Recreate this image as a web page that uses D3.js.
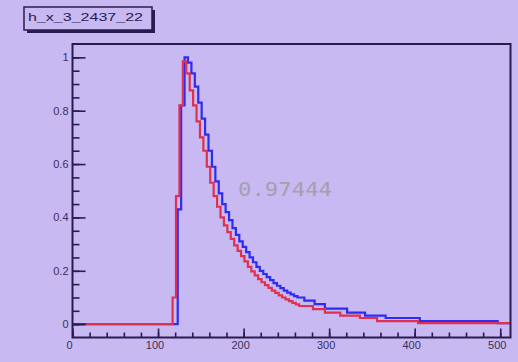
<!DOCTYPE html>
<html>
<head>
<meta charset="utf-8">
<script src="https://cdn.jsdelivr.net/npm/d3@7"></script>
<style>
  html, body { margin: 0; padding: 0; background: #c8b9f3; }
  svg { display: block; }
</style>
</head>
<body>
<svg id="chart" width="518" height="362"></svg>
<script>
// Histogram title and overlay value
const histTitle = "h_x_3_2437_22";
const overlayValue = "0.97444";

// Axis ranges and ticks
const xDomain = [0, 512];
const yDomain = [-0.05, 1.05];
const xMajorTicks = [0, 100, 200, 300, 400, 500];
const xMinorTicks = d3.range(0, 513, 20);
const yMajorTicks = [0, 0.2, 0.4, 0.6, 0.8, 1];
const yMinorTicks = d3.range(0, 1.0001, 0.05);
const yTickLabels = ["0", "0.2", "0.4", "0.6", "0.8", "1"];

// Red histogram: bin edges and contents
const redEdges = [16, 117, 121, 125, 129, 133, 137, 141, 145, 149, 153, 157, 161, 165, 169, 173, 177,
  181, 185, 189, 193, 197, 201, 205, 209, 213, 217, 221, 225, 229, 233, 237, 241, 245, 249, 253,
  257, 261, 265, 281, 295, 313, 336, 356, 404, 512];
const redValues = [0, 0.10, 0.48, 0.82, 0.985, 0.94, 0.876, 0.82, 0.76, 0.70, 0.65, 0.59, 0.53,
  0.48, 0.44, 0.40, 0.37, 0.345, 0.32, 0.295, 0.275, 0.255, 0.235, 0.215, 0.198, 0.183, 0.169,
  0.157, 0.146, 0.136, 0.126, 0.117, 0.108, 0.100, 0.093, 0.086, 0.080, 0.074, 0.068, 0.056,
  0.043, 0.032, 0.023, 0.011, 0.004];

// Blue histogram: bin edges and contents
const blueEdges = [0, 123, 127, 131, 135, 139, 143, 147, 151, 155, 159, 163, 167, 171, 175, 179,
  183, 187, 191, 195, 199, 203, 207, 211, 215, 219, 223, 227, 231, 235, 239, 243, 247, 251, 255,
  259, 263, 271, 283, 295, 321, 342, 366, 406, 497, 512];
const blueValues = [0, 0.43, 0.82, 1.0, 0.98, 0.94, 0.89, 0.83, 0.77, 0.71, 0.65, 0.59, 0.535,
  0.49, 0.45, 0.42, 0.39, 0.36, 0.335, 0.31, 0.29, 0.27, 0.25, 0.232, 0.215, 0.20, 0.188, 0.176,
  0.165, 0.154, 0.144, 0.135, 0.126, 0.118, 0.112, 0.105, 0.10, 0.088, 0.075, 0.058, 0.043,
  0.032, 0.023, 0.011, 0.004];

const frame = { left: 72.5, right: 510.5, top: 44, bottom: 337.5 };
const ink = "#2a1c4e";
const labelInk = "#3a3058";

const svg = d3.select("#chart");

const x = d3.scaleLinear().domain(xDomain).range([frame.left, frame.right]);
const y = d3.scaleLinear().domain(yDomain).range([frame.bottom, frame.top]);

svg.append("defs").append("clipPath").attr("id", "plotClip")
  .append("rect")
  .attr("x", frame.left).attr("y", frame.top)
  .attr("width", frame.right - frame.left).attr("height", frame.bottom - frame.top);

// Step outline of a histogram from its edges and contents
function stepPoints(edges, values) {
  const pts = values.map((v, i) => [edges[i], v]);
  pts.push([edges[edges.length - 1], values[values.length - 1]]);
  return pts;
}
const stepLine = d3.line()
  .x(d => x(d[0]))
  .y(d => y(d[1]))
  .curve(d3.curveStepAfter);

const plot = svg.append("g").attr("clip-path", "url(#plotClip)");

plot.append("path")
  .attr("d", stepLine(stepPoints(blueEdges, blueValues)))
  .attr("fill", "none")
  .attr("stroke", "#2f2cf2")
  .attr("stroke-width", 2.2);

plot.append("path")
  .attr("d", stepLine(stepPoints(redEdges, redValues)))
  .attr("fill", "none")
  .attr("stroke", "#e0304f")
  .attr("stroke-width", 2.2);

// Frame
svg.append("rect")
  .attr("x", frame.left).attr("y", frame.top)
  .attr("width", frame.right - frame.left).attr("height", frame.bottom - frame.top)
  .attr("fill", "none").attr("stroke", ink).attr("stroke-width", 2);

// Y axis: ticks point into the frame
const yAxisMajor = d3.axisRight(y).tickValues(yMajorTicks).tickSize(13)
  .tickFormat(() => "");
const yAxisMinor = d3.axisRight(y).tickValues(yMinorTicks).tickSize(7)
  .tickFormat(() => "");
[yAxisMinor, yAxisMajor].forEach(ax => {
  const g = svg.append("g").attr("transform", `translate(${frame.left},0)`).call(ax);
  g.select(".domain").remove();
  g.selectAll("line").attr("stroke", ink).attr("stroke-width", 1.6);
});
svg.append("g").selectAll("text").data(yMajorTicks).join("text")
  .attr("x", frame.left - 4)
  .attr("y", d => y(d))
  .attr("dy", "0.35em")
  .attr("text-anchor", "end")
  .attr("font-family", "Liberation Sans, Arial, sans-serif")
  .attr("font-size", 11)
  .attr("fill", labelInk)
  .text((d, i) => yTickLabels[i]);

// X axis: ticks point up into the frame
const xAxisMajor = d3.axisTop(x).tickValues(xMajorTicks).tickSize(9).tickFormat(() => "");
const xAxisMinor = d3.axisTop(x).tickValues(xMinorTicks).tickSize(5).tickFormat(() => "");
[xAxisMinor, xAxisMajor].forEach(ax => {
  const g = svg.append("g").attr("transform", `translate(0,${frame.bottom})`).call(ax);
  g.select(".domain").remove();
  g.selectAll("line").attr("stroke", ink).attr("stroke-width", 1.6);
});
svg.append("g").selectAll("text").data(xMajorTicks).join("text")
  .attr("x", d => x(d) - 3)
  .attr("y", frame.bottom + 11)
  .attr("text-anchor", "middle")
  .attr("font-family", "Liberation Sans, Arial, sans-serif")
  .attr("font-size", 11)
  .attr("fill", labelInk)
  .text(d => d3.format("d")(d));

// Overlay value
svg.append("text")
  .attr("x", 285)
  .attr("y", 196)
  .attr("text-anchor", "middle")
  .attr("font-family", "DejaVu Sans Mono, monospace")
  .attr("font-size", 19)
  .attr("textLength", 94)
  .attr("lengthAdjust", "spacingAndGlyphs")
  .attr("fill", "#a3a0ac")
  .text(overlayValue);

// Title box with shadow
const tb = { x: 24, y: 7, w: 128, h: 23 };
svg.append("rect")
  .attr("x", tb.x + 3).attr("y", tb.y + 3).attr("width", tb.w).attr("height", tb.h)
  .attr("fill", ink);
svg.append("rect")
  .attr("x", tb.x).attr("y", tb.y).attr("width", tb.w).attr("height", tb.h)
  .attr("fill", "#c8b9f3").attr("stroke", ink).attr("stroke-width", 1.5);
svg.append("text")
  .attr("x", tb.x + 4)
  .attr("y", tb.y + 14)
  .attr("font-family", "Liberation Sans, Arial, sans-serif")
  .attr("font-size", 11)
  .attr("textLength", 115)
  .attr("lengthAdjust", "spacingAndGlyphs")
  .attr("fill", ink)
  .text(histTitle);
</script>
</body>
</html>
